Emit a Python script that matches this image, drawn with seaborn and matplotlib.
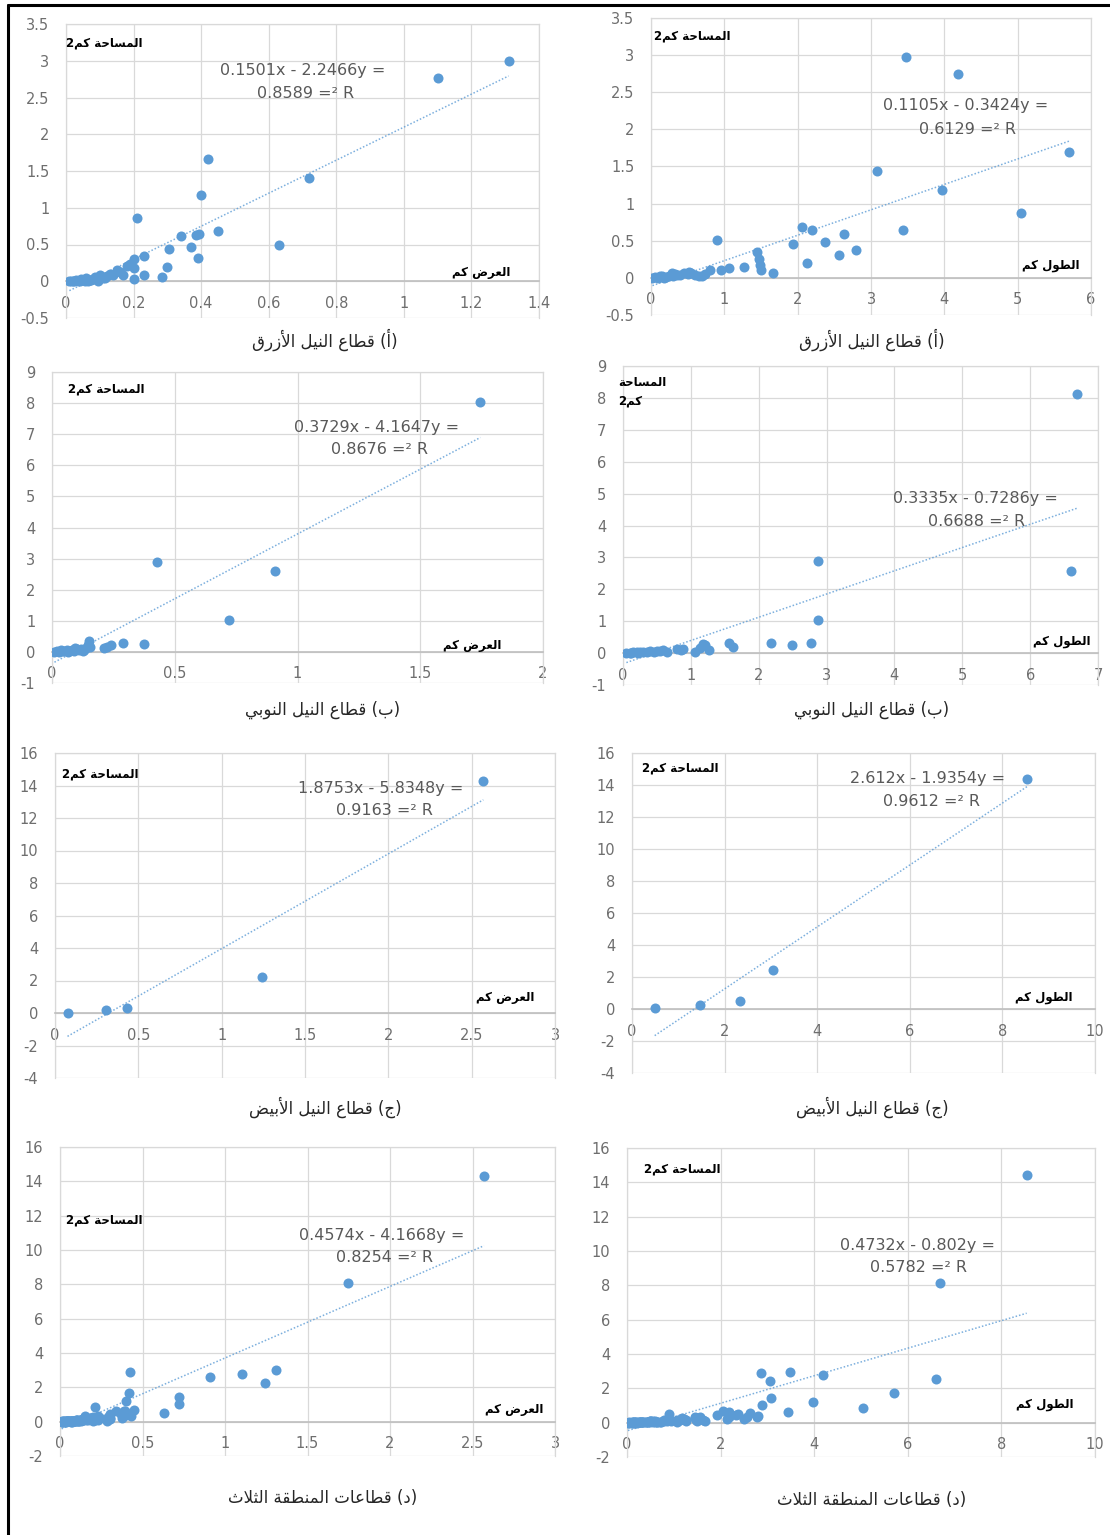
import numpy as np
import matplotlib
matplotlib.use("Agg")
import matplotlib.pyplot as plt
from matplotlib.lines import Line2D
from matplotlib.ticker import FuncFormatter
import seaborn as sns

sns.set_style("white")
plt.rcParams["font.family"] = ["DejaVu Sans"]
plt.rcParams["axes.unicode_minus"] = False

W, H = 1110, 1535
BLUE = "#5B9BD5"
GRID = "#D9D9D9"
TICK = "#6E6E6E"

# ---- data ----
# Blue Nile sector: width (km) vs area (km2)
bn_width = [1.31, 1.10, 0.72, 0.42, 0.40, 0.21, 0.45, 0.63, 0.34, 0.385, 0.395, 0.37, 0.39,
            0.305, 0.30, 0.285, 0.23, 0.23, 0.20, 0.20, 0.20, 0.18, 0.17, 0.15, 0.13, 0.115,
            0.10, 0.19, 0.16, 0.14, 0.12, 0.11, 0.09, 0.08, 0.07, 0.06, 0.05, 0.04, 0.03, 0.02,
            0.01, 0.015, 0.025, 0.035, 0.045, 0.055, 0.065, 0.075, 0.085, 0.095]
bn_width_area = [3.00, 2.76, 1.41, 1.67, 1.18, 0.86, 0.69, 0.49, 0.61, 0.63, 0.64, 0.46, 0.32,
                 0.44, 0.20, 0.06, 0.35, 0.09, 0.30, 0.18, 0.03, 0.21, 0.08, 0.15, 0.10, 0.05,
                 0.08, 0.24, 0.12, 0.09, 0.07, 0.04, 0.05, 0.03, 0.02, 0.04, 0.02, 0.01, 0.02, 0.0,
                 0.01, 0.0, 0.01, 0.0, 0.03, 0.01, 0.0, 0.02, 0.06, 0.01]
# Blue Nile sector: length (km) vs area (km2)
bn_length = [3.48, 4.18, 5.70, 3.08, 3.97, 5.04, 3.43, 0.90, 2.06, 2.19, 2.63, 1.93, 2.37, 2.79,
             2.56, 2.13, 1.45, 1.47, 1.48, 1.50, 1.67, 1.27, 1.07, 0.95, 0.80, 0.73, 0.65, 0.60,
             0.55, 0.50, 0.45, 0.40, 0.35, 0.30, 0.28, 0.25, 0.20, 0.15, 0.12, 0.10, 0.05, 0.02,
             0.70, 0.52, 0.33, 0.18]
bn_length_area = [2.97, 2.75, 1.70, 1.44, 1.19, 0.87, 0.65, 0.51, 0.68, 0.65, 0.59, 0.45, 0.48, 0.37,
                  0.31, 0.20, 0.35, 0.25, 0.18, 0.10, 0.07, 0.14, 0.13, 0.11, 0.11, 0.05, 0.03, 0.04,
                  0.07, 0.05, 0.06, 0.04, 0.04, 0.02, 0.06, 0.03, 0.01, 0.02, 0.03, 0.0, 0.01, 0.0,
                  0.02, 0.08, 0.05, 0.0]
# Nubian Nile sector
nb_width = [1.745, 0.426, 0.909, 0.72, 0.288, 0.375, 0.15, 0.145, 0.225, 0.24, 0.21, 0.155, 0.14,
            0.13, 0.12, 0.11, 0.10, 0.09, 0.08, 0.07, 0.06, 0.05, 0.04, 0.03, 0.02, 0.01, 0.035,
            0.065, 0.095, 0.125]
nb_width_area = [8.05, 2.88, 2.61, 1.04, 0.30, 0.24, 0.35, 0.21, 0.17, 0.21, 0.11, 0.15, 0.12,
                 0.07, 0.10, 0.05, 0.08, 0.04, 0.06, 0.03, 0.05, 0.02, 0.03, 0.0, 0.02, 0.0, 0.06,
                 0.01, 0.12, 0.02]
nb_length = [6.69, 6.60, 2.87, 2.88, 2.77, 2.49, 2.18, 1.62, 1.56, 1.27, 1.21, 1.14, 1.06, 0.88,
             0.80, 0.59, 0.65, 0.55, 0.50, 0.45, 0.40, 0.35, 0.30, 0.25, 0.22, 0.20, 0.15, 0.12,
             0.10, 0.05, 1.18, 0.85]
nb_length_area = [8.13, 2.56, 2.90, 1.04, 0.31, 0.24, 0.31, 0.18, 0.33, 0.10, 0.24, 0.16, 0.05, 0.14,
                  0.13, 0.10, 0.04, 0.06, 0.07, 0.05, 0.06, 0.03, 0.05, 0.04, 0.0, 0.02, 0.03, 0.0,
                  0.01, 0.0, 0.28, 0.10]
# White Nile sector
wn_width = [2.57, 1.243, 0.433, 0.304, 0.075]
wn_width_area = [14.3, 2.23, 0.32, 0.18, 0.0]
wn_length = [8.54, 3.05, 2.33, 1.46, 0.49]
wn_length_area = [14.4, 2.43, 0.47, 0.25, 0.08]

# trendline slope, intercept and R2 printed on each panel
trend_slope = [2.2466, 0.3424, 4.1647, 0.7286, 5.8348, 1.9354, 4.1668, 0.802]
trend_icept = [-0.1501, -0.1105, -0.3729, -0.3335, -1.8753, -2.612, -0.4574, -0.4732]
trend_r2 = [0.8589, 0.6129, 0.8676, 0.6688, 0.9163, 0.9612, 0.8254, 0.5782]

# ---- minimal arabic shaping (presentation forms, visual order) ----
FORMS = {
    "ا": ("\uFE8D", "\uFE8E", None, None), "أ": ("\uFE83", "\uFE84", None, None),
    "ب": ("\uFE8F", "\uFE90", "\uFE91", "\uFE92"), "ت": ("\uFE95", "\uFE96", "\uFE97", "\uFE98"),
    "ث": ("\uFE99", "\uFE9A", "\uFE9B", "\uFE9C"), "ج": ("\uFE9D", "\uFE9E", "\uFE9F", "\uFEA0"),
    "ح": ("\uFEA1", "\uFEA2", "\uFEA3", "\uFEA4"), "د": ("\uFEA9", "\uFEAA", None, None),
    "ر": ("\uFEAD", "\uFEAE", None, None), "ز": ("\uFEAF", "\uFEB0", None, None),
    "س": ("\uFEB1", "\uFEB2", "\uFEB3", "\uFEB4"), "ض": ("\uFEBD", "\uFEBE", "\uFEBF", "\uFEC0"),
    "ط": ("\uFEC1", "\uFEC2", "\uFEC3", "\uFEC4"), "ع": ("\uFEC9", "\uFECA", "\uFECB", "\uFECC"),
    "ق": ("\uFED5", "\uFED6", "\uFED7", "\uFED8"), "ك": ("\uFED9", "\uFEDA", "\uFEDB", "\uFEDC"),
    "ل": ("\uFEDD", "\uFEDE", "\uFEDF", "\uFEE0"), "م": ("\uFEE1", "\uFEE2", "\uFEE3", "\uFEE4"),
    "ن": ("\uFEE5", "\uFEE6", "\uFEE7", "\uFEE8"), "ة": ("\uFE93", "\uFE94", None, None),
    "و": ("\uFEED", "\uFEEE", None, None), "ي": ("\uFEF1", "\uFEF2", "\uFEF3", "\uFEF4"),
}
LAM_ALEF = {"ا": ("\uFEFB", "\uFEFC"), "أ": ("\uFEF7", "\uFEF8")}


def shape(text):
    res, link, i = [], False, 0
    while i < len(text):
        c = text[i]
        if c == "ل" and i + 1 < len(text) and text[i + 1] in LAM_ALEF:
            iso, fin = LAM_ALEF[text[i + 1]]
            res.append(fin if link else iso)
            link, i = False, i + 2
            continue
        if c not in FORMS:
            res.append(c)
            link, i = False, i + 1
            continue
        iso, fin, ini, med = FORMS[c]
        nxt = text[i + 1] if i + 1 < len(text) else None
        can_next = ini is not None and nxt in FORMS
        if link and can_next:
            g = med
        elif link:
            g = fin
        elif can_next:
            g = ini
        else:
            g = iso
        res.append(g)
        link, i = can_next, i + 1
    return "".join(res)


def rtl(text):
    return shape(text)[::-1]


AREA = "2" + rtl("المساحة كم")
WIDTH = rtl("العرض كم")
LENGTH = rtl("الطول كم")
titles = [
    rtl("قطاع النيل الأزرق") + " (" + shape("أ") + ")",
    rtl("قطاع النيل النوبي") + " (" + shape("ب") + ")",
    rtl("قطاع النيل الأبيض") + " (" + shape("ج") + ")",
    rtl("قطاعات المنطقة الثلاث") + " (" + shape("د") + ")",
]

fig = plt.figure(figsize=(W / 100, H / 100), dpi=100)
fmt = FuncFormatter(lambda v, p: f"{round(v, 2):g}")
LABEL_KW = dict(fontsize=8.5, color="black", fontweight="bold")


def panel(box, x, y, k, xmax, xstep, ylim, ystep, xname, area_pos, name_pos, eq_pos, title, title_xy,
          split_area=False):
    l, t, r, b = box
    ax = fig.add_axes([l / W, 1 - b / H, (r - l) / W, (b - t) / H])
    sns.scatterplot(x=x, y=y, ax=ax, color=BLUE, s=52, linewidth=0, zorder=3)
    xs = np.array([min(x), max(x)])
    ax.plot(xs, trend_slope[k] * xs + trend_icept[k], color=BLUE, lw=1.1,
            ls=(0, (1, 1.3)), zorder=4, alpha=0.8)
    ax.set_xlim(0, xmax)
    ax.set_ylim(*ylim)
    ax.set_xticks(np.arange(0, xmax + xstep / 2, xstep))
    ax.set_yticks(np.arange(ylim[0], ylim[1] + ystep / 2, ystep))
    ax.xaxis.set_major_formatter(fmt)
    ax.yaxis.set_major_formatter(fmt)
    ax.grid(True, color=GRID, lw=0.9)
    ax.set_axisbelow(True)
    for s in ("top", "right", "left"):
        ax.spines[s].set_color(GRID)
        ax.spines[s].set_linewidth(0.9)
    ax.spines["bottom"].set_position(("data", 0))
    ax.spines["bottom"].set_color("#BFBFBF")
    ax.spines["bottom"].set_linewidth(1.2)
    ax.tick_params(axis="both", length=0, labelsize=10.5, labelcolor=TICK)
    ax.tick_params(axis="x", pad=10.5)
    ax.tick_params(axis="y", pad=12)
    ax.set_xlabel("")
    ax.set_ylabel("")

    if split_area:
        ax.text(area_pos[0], area_pos[1], rtl("المساحة") + "\n" + "2" + rtl("كم"),
                transform=ax.transAxes, ha="left", va="center", linespacing=1.5, **LABEL_KW)
    else:
        ax.text(area_pos[0], area_pos[1], AREA, transform=ax.transAxes, ha="left",
                va="center", **LABEL_KW)
    ax.text(name_pos[0], name_pos[1], xname, transform=ax.transAxes, ha="right",
            va="center", **LABEL_KW)
    line1 = f"{abs(trend_icept[k]):g}x - {trend_slope[k]:g}y ="
    line2 = f"{trend_r2[k]:g} =\u00b2 R"
    ax.text(eq_pos[0][0], eq_pos[0][1], line1, transform=ax.transAxes, ha="center",
            va="center", fontsize=11.5, color="#595959")
    ax.text(eq_pos[1][0], eq_pos[1][1], line2, transform=ax.transAxes, ha="center",
            va="center", fontsize=11.5, color="#595959")
    fig.text(title_xy[0] / W, 1 - title_xy[1] / H, title, ha="center", va="center",
             fontsize=12, color="#262626")
    return ax


all_width = np.concatenate([bn_width, nb_width, wn_width])
all_width_area = np.concatenate([bn_width_area, nb_width_area, wn_width_area])
all_length = np.concatenate([bn_length, nb_length, wn_length])
all_length_area = np.concatenate([bn_length_area, nb_length_area, wn_length_area])

panel((66, 24, 539, 318), bn_width, bn_width_area, 0, 1.4, 0.2, (-0.5, 3.5), 0.5, WIDTH,
      (0.0, 0.935), (0.94, 0.156), ((0.50, 0.843), (0.506, 0.765)), titles[0], (325, 340))
panel((651, 18, 1091, 315), bn_length, bn_length_area, 1, 6, 1, (-0.5, 3.5), 0.5, LENGTH,
      (0.007, 0.94), (0.973, 0.168), ((0.716, 0.704), (0.72, 0.626)), titles[0], (872, 340))
panel((52, 372, 543, 683), nb_width, nb_width_area, 2, 2, 0.5, (-1, 9), 1, WIDTH,
      (0.033, 0.945), (0.916, 0.122), ((0.662, 0.823), (0.666, 0.752)), titles[1], (323, 710))
panel((623, 366, 1098, 685), nb_length, nb_length_area, 3, 7, 1, (-1, 9), 1, LENGTH,
      (-0.01, 0.92), (0.985, 0.135), ((0.743, 0.586), (0.745, 0.511)), titles[1], (872, 710),
      split_area=True)
panel((55, 753, 555, 1078), wn_width, wn_width_area, 4, 3, 0.5, (-4, 16), 2, WIDTH,
      (0.014, 0.935), (0.958, 0.249), ((0.652, 0.892), (0.658, 0.822)), titles[2], (325, 1107))
panel((632, 753, 1095, 1073), wn_length, wn_length_area, 5, 10, 2, (-4, 16), 2, LENGTH,
      (0.022, 0.953), (0.952, 0.2375), ((0.639, 0.919), (0.646, 0.847)), titles[2], (872, 1107))
panel((60, 1147, 555, 1456), all_width, all_width_area, 6, 3, 0.5, (-2, 16), 2, WIDTH,
      (0.012, 0.764), (0.976, 0.152), ((0.65, 0.715), (0.655, 0.644)), titles[3], (323, 1498))
panel((627, 1148, 1095, 1457), all_length, all_length_area, 7, 10, 2, (-2, 16), 2, LENGTH,
      (0.036, 0.932), (0.955, 0.17), ((0.62, 0.683), (0.622, 0.612)), titles[3], (872, 1500))

# page frame (top and left edges visible in the scan)
fig.add_artist(Line2D([8 / W, 1], [1 - 5 / H, 1 - 5 / H], color="black", lw=2.2,
                      transform=fig.transFigure))
fig.add_artist(Line2D([8 / W, 8 / W], [0, 1 - 5 / H], color="black", lw=2.2,
                      transform=fig.transFigure))

fig.savefig("out.png", dpi=100)
